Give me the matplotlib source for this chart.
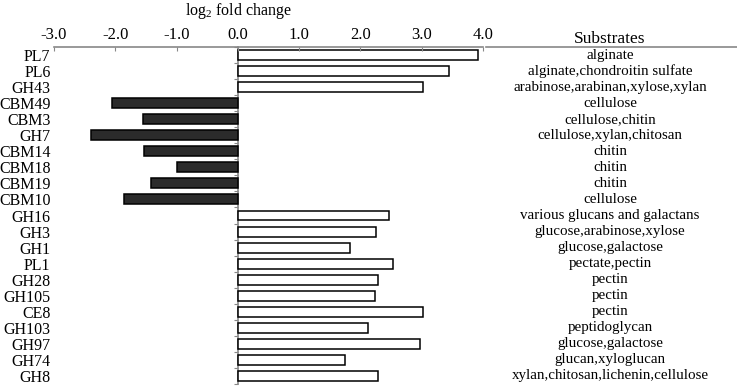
import matplotlib
matplotlib.use('Agg')
import matplotlib.pyplot as plt
from matplotlib.lines import Line2D
import numpy as np

plt.rcParams['font.family'] = ['Liberation Serif', 'DejaVu Serif']
plt.rcParams['mathtext.fontset'] = 'custom'
plt.rcParams['mathtext.rm'] = 'Liberation Serif'

modules = ['PL7', 'PL6', 'GH43', 'CBM49', 'CBM3', 'GH7', 'CBM14', 'CBM18',
           'CBM19', 'CBM10', 'GH16', 'GH3', 'GH1', 'PL1', 'GH28', 'GH105',
           'CE8', 'GH103', 'GH97', 'GH74', 'GH8']
log2fc = [3.92, 3.45, 3.02, -2.05, -1.55, -2.39, -1.53, -0.99,
          -1.41, -1.86, 2.46, 2.25, 1.83, 2.53, 2.29, 2.24,
          3.02, 2.12, 2.97, 1.75, 2.29]
substrates = ['alginate', 'alginate,chondroitin sulfate',
              'arabinose,arabinan,xylose,xylan', 'cellulose',
              'cellulose,chitin', 'cellulose,xylan,chitosan', 'chitin',
              'chitin', 'chitin', 'cellulose', 'various glucans and galactans',
              'glucose,arabinose,xylose', 'glucose,galactose', 'pectate,pectin',
              'pectin', 'pectin', 'pectin', 'peptidoglycan', 'glucose,galactose',
              'glucan,xyloglucan', 'xylan,chitosan,lichenin,cellulose']
xticks = [-3.0, -2.0, -1.0, 0.0, 1.0, 2.0, 3.0, 4.0]

fig = plt.figure(figsize=(7.37, 3.87), dpi=100)
ax = fig.add_axes([54 / 737, 1 - 384 / 387, (483 - 54) / 737, (384 - 47) / 387])

y = np.arange(len(modules))
colors = ['#2b2b2b' if v < 0 else 'white' for v in log2fc]
ax.barh(y, log2fc, height=0.62, color=colors, edgecolor='black', linewidth=1.1)

ax.set_xlim(-3, 4)
ax.set_ylim(len(modules) - 0.5, -0.5)

ax.xaxis.tick_top()
ax.set_xticks(xticks)
ax.set_xticklabels(['%.1f' % t for t in xticks], fontsize=12)
ax.tick_params(axis='x', direction='in', length=3, color='#888888', pad=3)
ax.set_yticks(y)
ax.set_yticklabels(modules, fontsize=11.5)
ax.tick_params(axis='y', length=0, pad=2.5)

for s in ['right', 'bottom', 'left']:
    ax.spines[s].set_visible(False)
ax.spines['top'].set_color('#888888')
ax.spines['top'].set_linewidth(1.2)

# vertical zero line with small ticks between rows
sec = ax.secondary_yaxis(3 / 7)
sec.set_yticks(np.arange(len(modules) + 1) - 0.5)
sec.set_yticklabels([])
sec.tick_params(axis='y', direction='out', length=3, color='#888888')
sec.spines['left'].set_color('#888888')
sec.spines['left'].set_linewidth(1.2)

fig.text(239 / 737, 1 - 11 / 387, r'log$_2$ fold change', ha='center', va='center', fontsize=11.5)

# substrate column
for i, s in enumerate(substrates):
    ax.annotate(s, xy=(610 / 737, i), xycoords=('figure fraction', 'data'),
                ha='center', va='center', fontsize=10.8, annotation_clip=False)
fig.text(610 / 737, 1 - 39 / 387, 'Substrates', ha='center', va='center', fontsize=12.5)
fig.add_artist(Line2D([486 / 737, 1], [1 - 47 / 387, 1 - 47 / 387],
                      color='#888888', linewidth=1.2))

fig.savefig('out.png', dpi=100)
